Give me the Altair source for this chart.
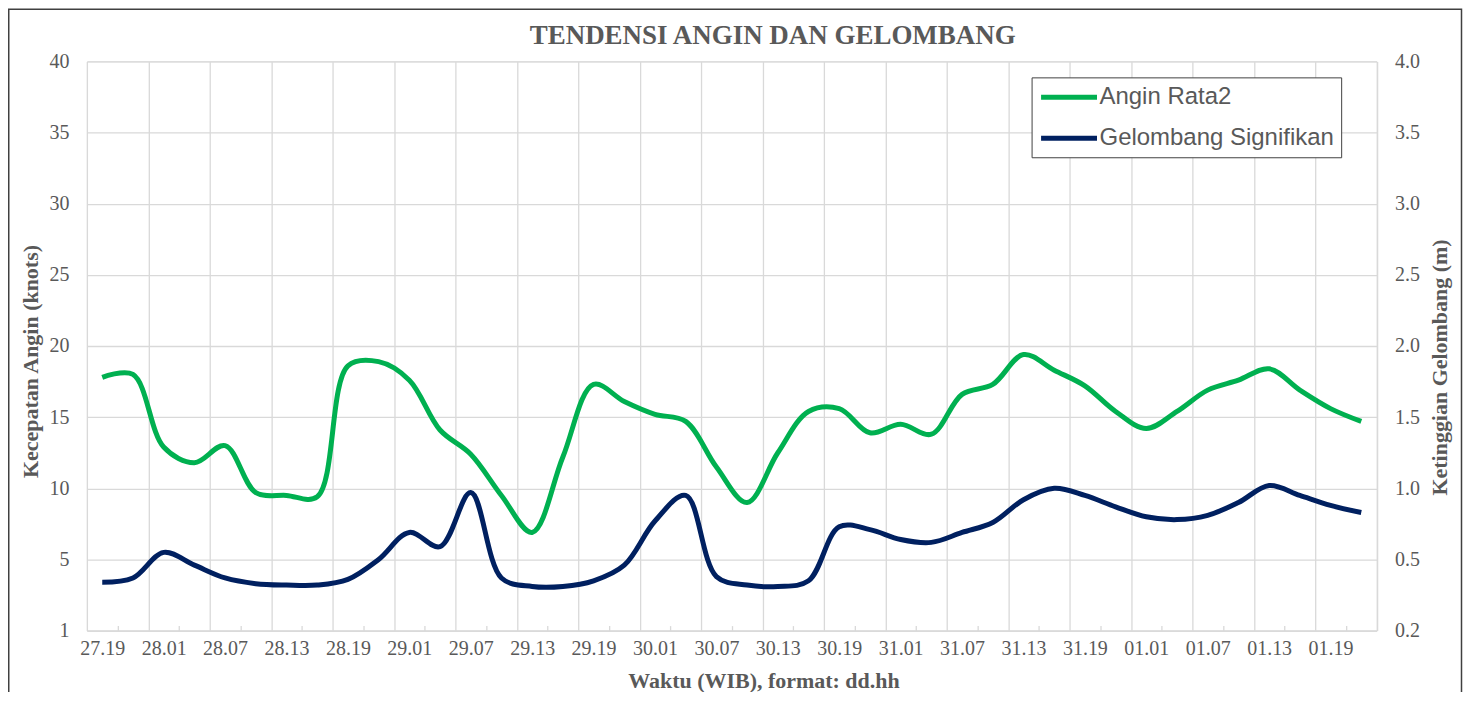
import json
import altair as alt
import pandas as pd

# ---- data ----
categories = ["27.19", "27.22", "28.01", "28.04", "28.07", "28.10", "28.13", "28.16",
              "28.19", "28.22", "29.01", "29.04", "29.07", "29.10", "29.13", "29.16",
              "29.19", "29.22", "30.01", "30.04", "30.07", "30.10", "30.13", "30.16",
              "30.19", "30.22", "31.01", "31.04", "31.07", "31.10", "31.13", "31.16",
              "31.19", "31.22", "01.01", "01.04", "01.07", "01.10", "01.13", "01.16",
              "01.19", "01.22"]
wind_knots = [17.8, 18.0, 12.9, 11.8, 13.0, 9.7, 9.5, 9.4, 18.6, 18.9,
              17.6, 14.1, 12.4, 9.5, 6.9, 12.2, 17.3, 16.1, 15.2, 14.7,
              11.5, 9.0, 12.5, 15.4, 15.6, 13.9, 14.5, 13.8, 16.6, 17.3,
              19.4, 18.3, 17.2, 15.4, 14.2, 15.4, 16.9, 17.6, 18.4, 16.9,
              15.6, 14.7]
wave_m = [0.34, 0.37, 0.55, 0.46, 0.37, 0.33, 0.32, 0.32, 0.36, 0.50,
          0.69, 0.59, 0.97, 0.37, 0.31, 0.31, 0.35, 0.46, 0.77, 0.95,
          0.38, 0.32, 0.31, 0.35, 0.73, 0.71, 0.64, 0.62, 0.69, 0.76,
          0.92, 1.00, 0.95, 0.87, 0.80, 0.78, 0.81, 0.90, 1.02, 0.95,
          0.88, 0.83]
series_names = ["Angin Rata2", "Gelombang Signifikan"]
series_colors = ["#00B050", "#002060"]
left_ticks = [0, 5, 10, 15, 20, 25, 30, 35, 40]
right_ticks = [0, 0.5, 1.0, 1.5, 2.0, 2.5, 3.0, 3.5, 4.0]

df = pd.DataFrame({"idx": list(range(len(categories))), "cat": categories,
                   "wind": wind_knots, "wave": wave_m})

W, H = 1291.5, 570
n = len(categories)
step = W / n
GRAY = "#595959"
GRID = "#D9D9D9"
SERIF = "Liberation Serif"

even_bounds = [i - 0.5 for i in range(0, n + 1, 2)]
odd_bounds = [i - 0.5 for i in range(1, n, 2)]
cat_js = json.dumps(categories)

xscale = alt.Scale(domain=[-0.5, n - 0.5], nice=False, zero=False)
cscale = alt.Scale(domain=series_names, range=series_colors)

# custom horizontal stroke symbol: 56 px long, starting at the legend padding
legend = alt.Legend(title=None, orient="none", legendX=946, legendY=16,
                    direction="vertical", symbolType="M-1,0H4.3333", symbolSize=441,
                    symbolStrokeWidth=5, symbolFillColor="transparent",
                    labelFont="Liberation Sans", labelFontSize=24,
                    labelColor=GRAY, strokeColor="#404040", fillColor="white",
                    padding=7, labelOffset=35, labelLimit=500, rowPadding=16)

x_main = alt.X("idx:Q", scale=xscale, axis=alt.Axis(
    values=even_bounds, grid=True, gridColor=GRID, gridWidth=1.3,
    ticks=False, domain=True, domainColor=GRID, domainWidth=1.3,
    labelExpr=f"(datum.value + 0.5) < {n} ? {cat_js}[datum.value + 0.5] : ''",
    labelOffset=step / 2, labelPadding=8, labelFont=SERIF, labelFontSize=20,
    labelColor=GRAY, labelOverlap=False, labelBound=False, labelFlush=False,
    title="Waktu (WIB), format: dd.hh", titleFont=SERIF, titleFontSize=22,
    titleFontWeight="bold", titleColor=GRAY, titleX=677.5, titleY=57,
    titleBaseline="alphabetic", titleAlign="center", orient="bottom"))

x_ticks = alt.X("idx:Q", scale=xscale, axis=alt.Axis(
    values=odd_bounds, grid=False, ticks=True, tickSize=5, tickColor=GRID,
    tickWidth=1.3, domain=False, labels=False, title=None, offset=-5,
    orient="bottom"))

wind_line = alt.Chart(df).transform_calculate(series=f"'{series_names[0]}'").mark_line(
    strokeWidth=5, interpolate="catmull-rom").encode(
    x=x_main,
    y=alt.Y("wind:Q", scale=alt.Scale(domain=[0, 40], nice=False), axis=alt.Axis(
        orient="left", values=left_ticks, grid=True, gridColor=GRID, gridWidth=1.3,
        ticks=False, domain=False, labelPadding=18, labelFont=SERIF, labelFontSize=20,
        labelColor=GRAY, labelExpr="datum.value == 0 ? '1' : datum.label",
        title="Kecepatan Angin (knots)", titleFont=SERIF, titleFontSize=22,
        titleFontWeight="bold", titleColor=GRAY, titleX=-56, titleY=300,
        titleBaseline="middle", titleAlign="center", titleAngle=270)),
    color=alt.Color("series:N", scale=cscale, legend=legend),
)

wave_line = alt.Chart(df).transform_calculate(series=f"'{series_names[1]}'").mark_line(
    strokeWidth=5, interpolate="catmull-rom").encode(
    x=x_ticks,
    y=alt.Y("wave:Q", scale=alt.Scale(domain=[0, 4], nice=False), axis=alt.Axis(
        orient="right", values=right_ticks, format=".1f", grid=False, ticks=False,
        domain=False, labelPadding=18, labelFont=SERIF, labelFontSize=20,
        labelColor=GRAY, labelExpr="datum.value == 0 ? '0.2' : datum.label",
        title="Ketinggian Gelombang (m)", titleFont=SERIF, titleFontSize=22,
        titleFontWeight="bold", titleColor=GRAY, titleX=62.5, titleY=306,
        titleBaseline="middle", titleAlign="center", titleAngle=270)),
    color=alt.Color("series:N", scale=cscale, legend=legend),
)

frame = alt.Chart(alt.Data(values=[{"f": 1}])).mark_rect(
    fill=None, stroke="#404040", strokeWidth=1.5).encode(
    x=alt.value(-78.25), x2=alt.value(1376.5), y=alt.value(-52.25), y2=alt.value(700))

chart = alt.layer(frame, wind_line, wave_line).resolve_scale(
    y="independent").resolve_axis(x="independent", y="independent").properties(
    width=W, height=H,
    title=alt.TitleParams("TENDENSI ANGIN DAN GELOMBANG", font=SERIF, fontSize=27,
                          fontWeight="bold", color=GRAY, anchor="middle",
                          frame="group", dx=41, dy=79, offset=16, baseline="alphabetic"),
    autosize=alt.AutoSizeParams(type="none"),
    padding={"left": 79, "top": 53, "right": 86.5, "bottom": 61},
).configure_view(stroke=None).configure(background="white")

chart.save("out.html", embed_options={"renderer": "svg", "actions": False})
